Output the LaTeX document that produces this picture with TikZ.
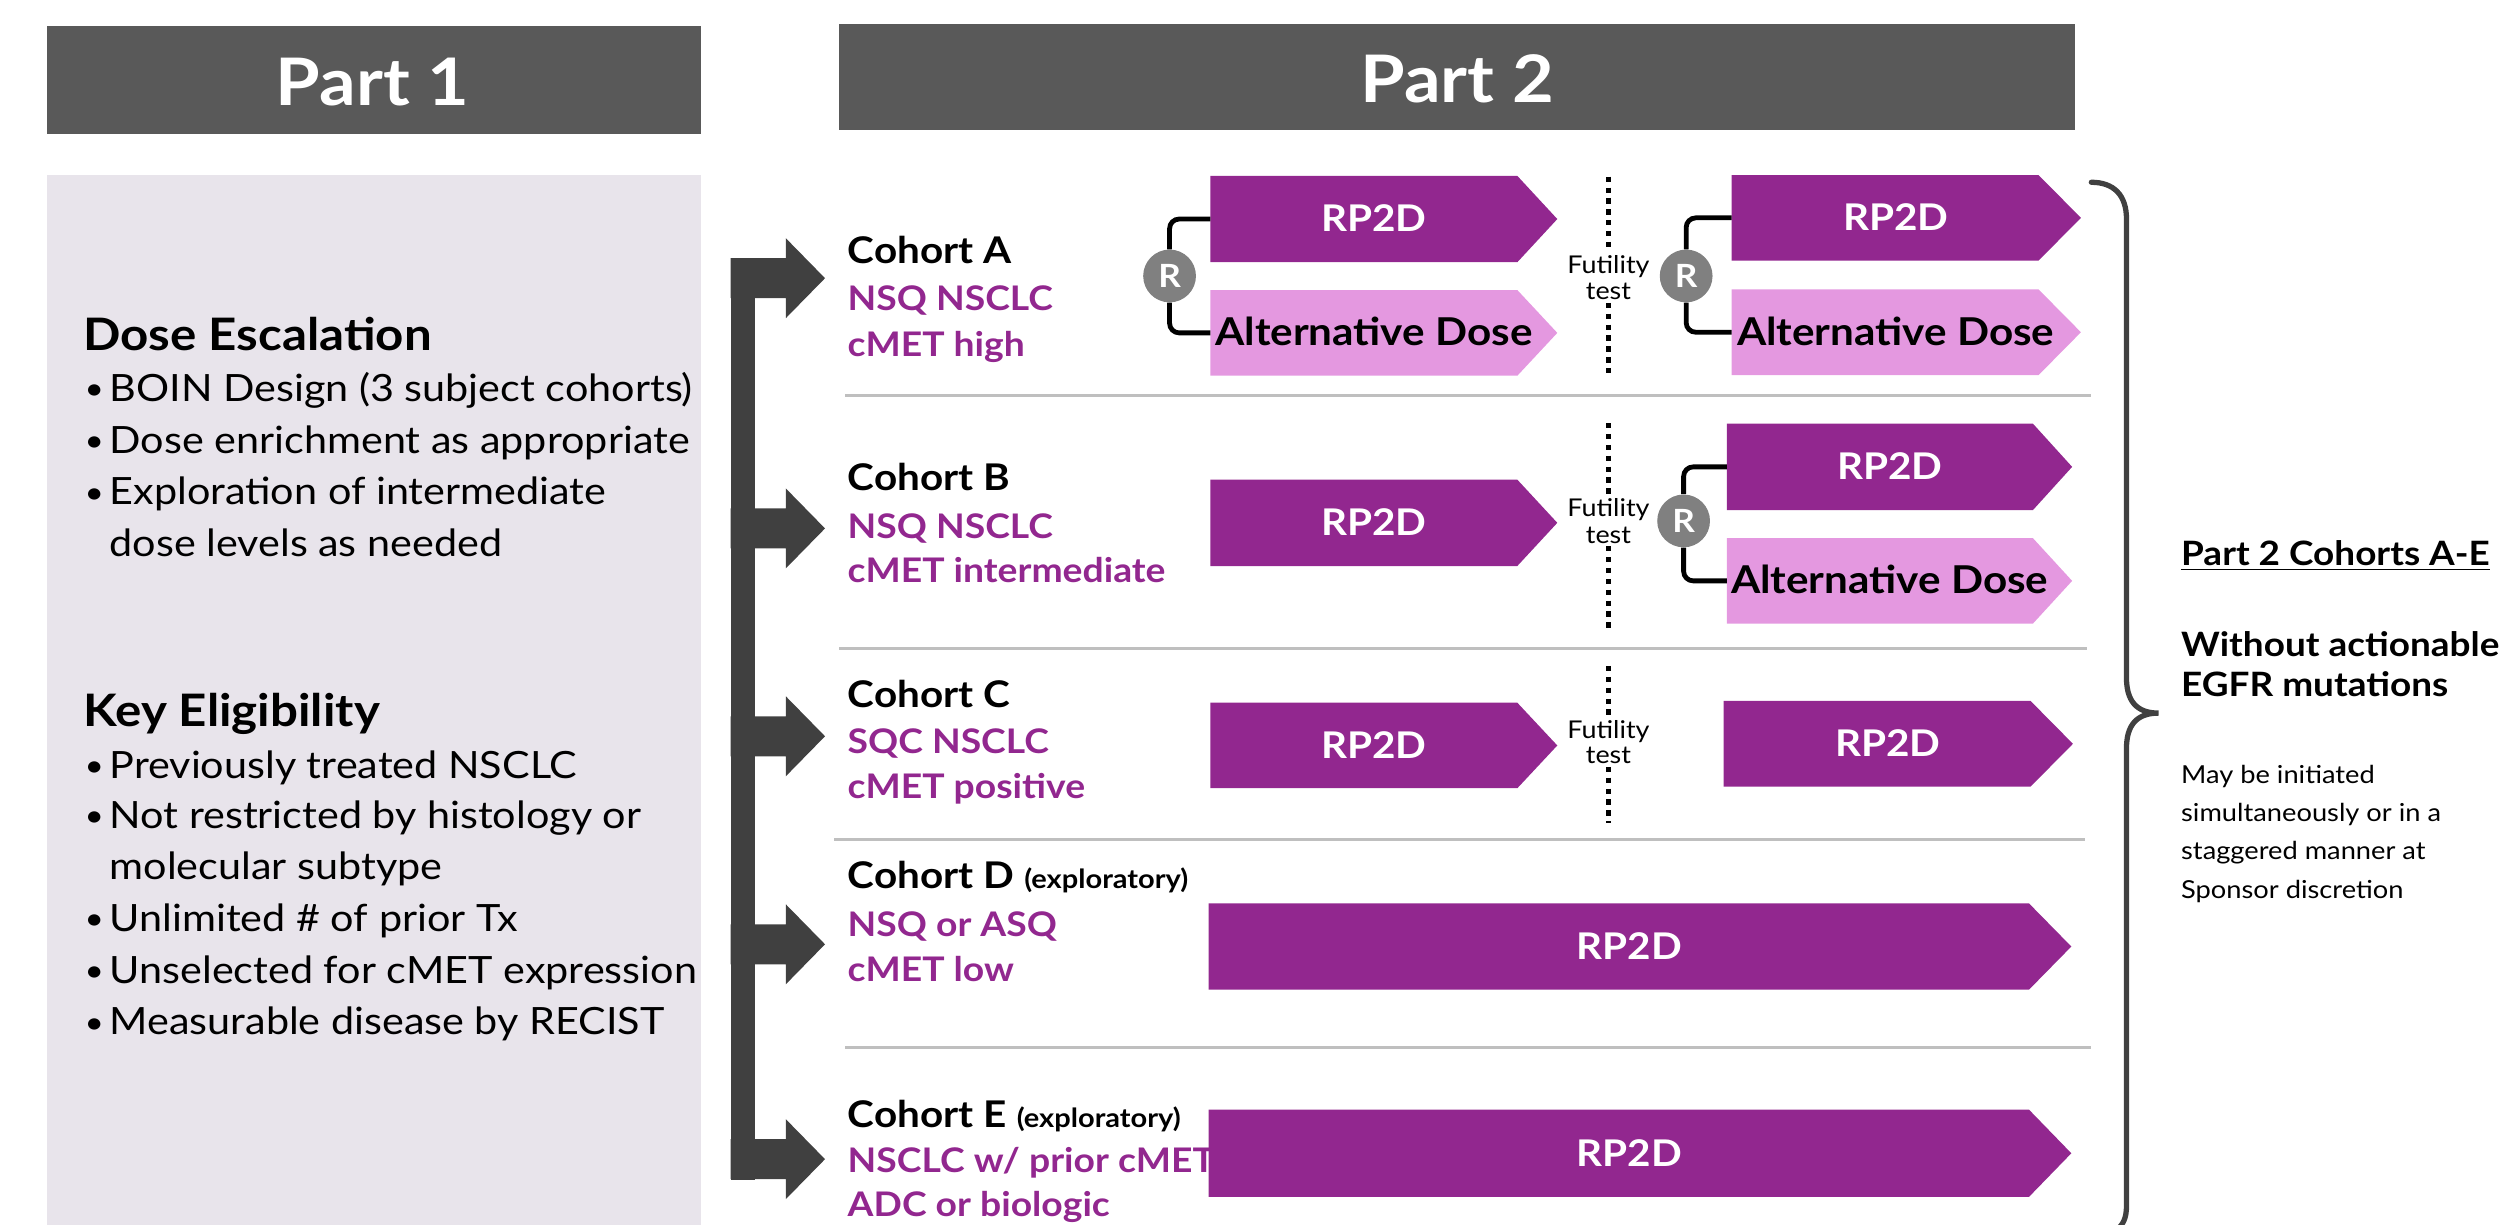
\documentclass[tikz,border=0pt]{standalone}
\usepackage{fontspec}
\setmainfont{Lato}[FakeStretch=1.10]
\definecolor{hdr}{HTML}{595959}
\definecolor{panel}{HTML}{E8E4EB}
\definecolor{purp}{HTML}{92278F}
\definecolor{lpurp}{HTML}{E498E0}
\definecolor{rgray}{HTML}{808080}
\definecolor{arr}{HTML}{404040}
\definecolor{sepc}{HTML}{BFBFBF}
\newcommand{\myfs}[1]{\fontsize{#1}{#1}\selectfont}
% #1 name, #2 x0, #3 x1, #4 tip x, #5 ytop, #6 ybot, #7 fill style, #8 text style, #9 text
\newcommand{\chev}[9]{%
  \fill[#7] (#2,#5) -- (#3,#5) -- (#4,{(#5+#6)/2}) -- (#3,#6) -- (#2,#6) -- cycle;
  \coordinate (#1w) at (#2,{(#5+#6)/2});
  \node[#8] (#1) at ({(#2+(#3+#4)/2)/2},{(#5+#6)/2+8}) {#9};
}
\newcommand{\blockarrow}[2]{% #1 name, #2 centre y
  \fill[arr] (457,{#2-12.5}) -- (491.5,{#2-12.5}) -- (491.5,{#2-25}) -- (516,#2)
    -- (491.5,{#2+25}) -- (491.5,{#2+12.5}) -- (457,{#2+12.5}) -- cycle;
  \coordinate (#1) at (516,#2);
}
\begin{document}
\begin{tikzpicture}[x=1pt,y=-1pt,
  txt/.style={inner sep=0pt, anchor=base west},
  lft/.style={txt, font=\myfs{23.5}},
  lhead/.style={txt, font=\myfs{28}\bfseries},
  bul/.style={inner sep=0pt, anchor=base, font=\myfs{19}},
  coh/.style={txt, font=\myfs{23}\bfseries},
  cohp/.style={txt, font=\myfs{21.2}\bfseries, text=purp},
  expl/.style={txt, font=\myfs{16.5}\bfseries},
  rpbox/.style={fill=purp},
  altbox/.style={fill=lpurp},
  rptxt/.style={inner sep=0pt, anchor=base, font=\myfs{23}\bfseries, text=white},
  alttxt/.style={inner sep=0pt, anchor=base, font=\myfs{24}\bfseries, text=black},
  rnode/.style={circle, fill=rgray, minimum size=33pt, inner sep=0pt, font=\myfs{20}\bfseries, text=white},
  brk/.style={line width=3pt, rounded corners=6pt, black},
  futl/.style={inner sep=1.5pt, anchor=base, font=\myfs{15.3}, fill=white},
  dotl/.style={line width=3.3pt, dash pattern=on 3.3pt off 3.5pt, black},
  sepl/.style={line width=1.8pt, sepc},
  hdrtxt/.style={inner sep=0pt, anchor=base, font=\myfs{41}\bfseries, text=white},
  rtb/.style={txt, font=\myfs{21}\bfseries},
  rtn/.style={txt, font=\myfs{15.5}}
]
\useasboundingbox (0,0) rectangle (1568,766);

% ---------- headers ----------
\node[fill=hdr, minimum width=409.1pt, minimum height=67.5pt, inner sep=0pt] (h1box) at (233.85,50.05) {};
\node[hdrtxt] (h1) at (233,65.7) {Part 1};
\node[fill=hdr, minimum width=773pt, minimum height=66pt, inner sep=0pt] (h2box) at (911.5,48) {};
\node[hdrtxt] (h2) at (911.5,64.4) {Part 2};

% ---------- Part 1 panel ----------
\fill[panel] (29.3,109.5) rectangle (438.4,775);
\node[lhead] (de) at (52,219) {Dose Escalation};
\node[bul] (b1) at (59,250) {•};
\node[lft] (t1) at (68.4,251.2) {BOIN Design (3 subject cohorts)};
\node[bul] (b2) at (59,282.3) {•};
\node[lft] (t2) at (68.4,283.5) {Dose enrichment as appropriate};
\node[bul] (b3) at (59,314.6) {•};
\node[lft] (t3) at (68.4,315.8) {Exploration of intermediate};
\node[lft] (t3b) at (68.4,348) {dose levels as needed};

\node[lhead] (ke) at (52,454.5) {Key Eligibility};
\node[bul] (k1) at (59,485.6) {•};
\node[lft] (u1) at (68.4,486.8) {Previously treated NSCLC};
\node[bul] (k2) at (59,516.8) {•};
\node[lft] (u2) at (68.4,518) {Not restricted by histology or};
\node[lft] (u2b) at (68.4,550.3) {molecular subtype};
\node[bul] (k3) at (59,581.5) {•};
\node[lft] (u3) at (68.4,582.7) {Unlimited \# of prior Tx};
\node[bul] (k4) at (59,613.8) {•};
\node[lft] (u4) at (68.4,615) {Unselected for cMET expression};
\node[bul] (k5) at (59,646.1) {•};
\node[lft] (u5) at (68.4,647.3) {Measurable disease by RECIST};

% ---------- distribution arrows ----------
\fill[arr] (457,162) rectangle (472,738);
\blockarrow{arA}{174}
\blockarrow{arB}{330.5}
\blockarrow{arC}{460.5}
\blockarrow{arD}{590.6}
\blockarrow{arE}{725}

% ---------- separators ----------
\draw[sepl] (528.6,247.5) -- (1308,247.5);
\draw[sepl] (525,405.5) -- (1305,405.5);
\draw[sepl] (521.8,524.8) -- (1304,524.8);
\draw[sepl] (528.6,655.3) -- (1308,655.3);

% ---------- cohort labels ----------
\node[coh] (cA) at (530,165) {Cohort A};
\node[cohp] (cA1) at (530,194.5) {NSQ NSCLC};
\node[cohp] (cA2) at (530,222.7) {cMET high};
\node[coh] (cB) at (530,306.9) {Cohort B};
\node[cohp] (cB1) at (530,336.6) {NSQ NSCLC};
\node[cohp] (cB2) at (530,364.4) {cMET intermediate};
\node[coh] (cC) at (530,442.4) {Cohort C};
\node[cohp] (cC1) at (530,471.5) {SQC NSCLC};
\node[cohp] (cC2) at (530,499.2) {cMET positive};
\node[coh] (cD) at (530,555.7) {Cohort D};
\node[expl, anchor=base west] (cDx) at ([xshift=6pt]cD.base east) {(exploratory)};
\node[cohp] (cD1) at (530,585.5) {NSQ or ASQ};
\node[cohp] (cD2) at (530,613.6) {cMET low};
\node[coh] (cE) at (530,705) {Cohort E};
\node[expl, anchor=base west] (cEx) at ([xshift=6pt]cE.base east) {(exploratory)};
\node[cohp] (cE1) at (530,733.6) {NSCLC w/ prior cMET};
\node[cohp] (cE2) at (530,761) {ADC or biologic};

% ---------- chevrons ----------
\chev{a1r}{757}{949}{974}{110}{164}{rpbox}{rptxt}{RP2D}
\chev{a1a}{757}{949}{974}{181.4}{235}{altbox}{alttxt}{Alternative Dose}
\chev{a2r}{1083}{1275}{1301.5}{109.5}{163}{rpbox}{rptxt}{RP2D}
\chev{a2a}{1083}{1275}{1301.5}{181}{234.6}{altbox}{alttxt}{Alternative Dose}
\chev{b1r}{757}{949}{974}{300}{354}{rpbox}{rptxt}{RP2D}
\chev{b2r}{1080}{1271.5}{1296}{265}{319}{rpbox}{rptxt}{RP2D}
\chev{b2a}{1080}{1271.5}{1296}{336.6}{390}{altbox}{alttxt}{Alternative Dose}
\chev{c1r}{757}{949}{974}{439.5}{493}{rpbox}{rptxt}{RP2D}
\chev{c2r}{1078}{1270}{1296.5}{438.4}{492}{rpbox}{rptxt}{RP2D}
\chev{d1r}{756}{1269}{1295.5}{565}{619}{rpbox}{rptxt}{RP2D}
\chev{e1r}{756}{1269}{1295.5}{694}{748.6}{rpbox}{rptxt}{RP2D}

% ---------- randomisation ----------
\node[rnode] (rA1) at (731.5,172.6) {R};
\draw[brk] (a1rw) -| (rA1.north);
\draw[brk] (a1aw) -| (rA1.south);
\node[rnode] (rA2) at (1054.6,172.6) {R};
\draw[brk] (a2rw) -| (rA2.north);
\draw[brk] (a2aw) -| (rA2.south);
\node[rnode] (rB2) at (1053,325.8) {R};
\draw[brk] (b2rw) -| (rB2.north);
\draw[brk] (b2aw) -| (rB2.south);

% ---------- futility tests ----------
\coordinate (fAt) at (1006,110.5);
\coordinate (fAb) at (1006,233.5);
\node[futl] (fA1) at (1006,171) {Futility};
\node[futl] (fA2) at (1006,187.6) {test};
\draw[dotl] (fAt) -- (fA1);
\draw[dotl] (fA2) -- (fAb);

\coordinate (fBt) at (1006,264.6);
\coordinate (fBb) at (1006,392.9);
\node[futl] (fB1) at (1006,323.1) {Futility};
\node[futl] (fB2) at (1006,339.8) {test};
\draw[dotl] (fBt) -- (fB1);
\draw[dotl] (fB2) -- (fBb);

\coordinate (fCt) at (1006,416.5);
\coordinate (fCb) at (1006,514.5);
\node[futl] (fC1) at (1006,461.7) {Futility};
\node[futl] (fC2) at (1006,477.8) {test};
\draw[dotl] (fCt) -- (fC1);
\draw[dotl] (fC2) -- (fCb);

% ---------- brace ----------
\draw[line width=3.3pt, arr, line cap=round]
  (1308,114) .. controls (1322,114) and (1330,122) .. (1330,137)
  -- (1330,424) .. controls (1330,438) and (1336,446) .. (1350,446)
  .. controls (1336,446) and (1330,454) .. (1330,468)
  -- (1330,754) .. controls (1330,762) and (1328,766) .. (1323,770);

% ---------- right text ----------
\node[rtb] (p2c) at (1364,353.4) {Part 2 Cohorts A-E};
\draw[line width=1.2pt] ([yshift=-2.8pt]p2c.base west) -- ([yshift=-2.8pt]p2c.base east);
\node[rtb] (w1) at (1364,410.3) {Without actionable};
\node[rtb] (w2) at (1364,435.7) {EGFR mutations};
\node[rtn] (m1) at (1364,489.8) {May be initiated};
\node[rtn] (m2) at (1364,513.9) {simultaneously or in a};
\node[rtn] (m3) at (1364,537.8) {staggered manner at};
\node[rtn] (m4) at (1364,561.8) {Sponsor discretion};
\end{tikzpicture}
\end{document}
